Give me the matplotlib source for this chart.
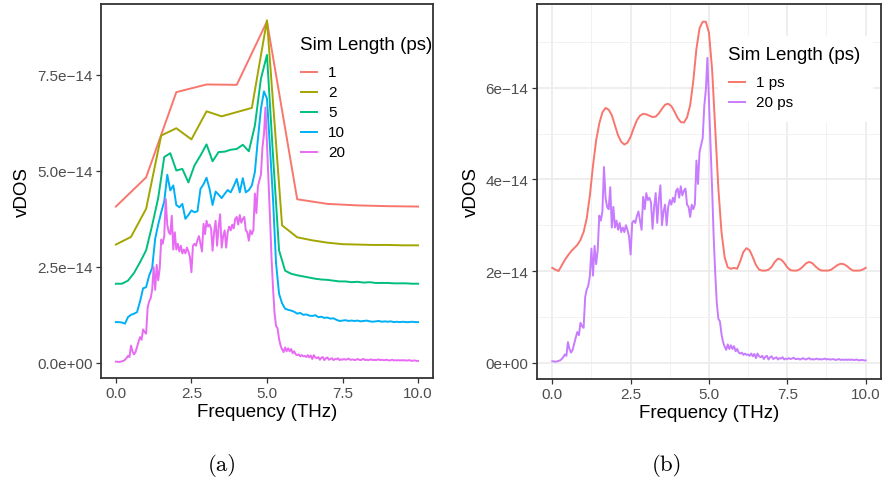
import numpy as np
import matplotlib
matplotlib.use("Agg")
import matplotlib.pyplot as plt
from matplotlib.lines import Line2D
from matplotlib.patches import Rectangle

plt.rcParams['font.family'] = ['Liberation Sans', 'DejaVu Sans']

# vDOS values, units of 1e-14, without the vertical offset
vdos_1ps = [0.07, 0.83, 3.05, 3.25, 3.24, 4.89, 0.26, 0.14, 0.10, 0.08, 0.07]

vdos_2ps = [0.08, 0.28, 1.01, 2.92, 3.11, 2.82, 3.55, 3.42, 3.53, 3.64, 5.92,
            0.58, 0.27, 0.19, 0.13, 0.09, 0.08, 0.07, 0.07, 0.06, 0.06]

vdos_5ps = [0.06, 0.06, 0.14, 0.34, 0.62, 0.93, 1.58, 2.29, 3.36, 3.46,
            3.01, 3.05, 2.70, 3.14, 3.40, 3.69, 3.25, 3.49, 3.50, 3.55,
            3.57, 3.68, 3.51, 4.18, 5.40, 6.02, 3.40, 0.93, 0.40, 0.32,
            0.28, 0.25, 0.22, 0.19, 0.17, 0.16, 0.14, 0.12, 0.12, 0.10,
            0.11, 0.09, 0.10, 0.08, 0.08, 0.08, 0.07, 0.07, 0.07, 0.06,
            0.06]

vdos_10ps = [0.06, 0.06, 0.05, 0.02, 0.19, 0.25, 0.28, 0.32, 0.60, 0.94,
             0.97, 1.27, 1.47, 2.23, 2.60, 2.92, 3.20, 3.90, 3.49, 3.62,
             3.11, 3.05, 3.14, 2.75, 2.85, 2.97, 2.92, 2.95, 3.53, 3.65,
             3.82, 3.53, 3.11, 3.46, 3.38, 3.29, 3.40, 3.50, 3.44, 3.60,
             3.79, 3.44, 3.81, 3.44, 3.50, 3.62, 3.97, 4.83, 5.61, 6.07,
             5.88, 4.60, 3.27, 1.60, 0.80, 0.55, 0.41, 0.38, 0.36, 0.33,
             0.28, 0.30, 0.25, 0.26, 0.23, 0.22, 0.24, 0.19, 0.20, 0.17,
             0.18, 0.15, 0.16, 0.12, 0.09, 0.10, 0.11, 0.09, 0.10, 0.09,
             0.10, 0.08, 0.09, 0.10, 0.08, 0.07, 0.08, 0.09, 0.07, 0.08,
             0.07, 0.08, 0.06, 0.07, 0.06, 0.07, 0.06, 0.06, 0.07, 0.06,
             0.06]

# one row per THz
vdos_20ps = [0.03, 0.03, 0.02, 0.03, 0.04, 0.05, 0.08, 0.12, 0.18, 0.15,
             0.45, 0.30, 0.22, 0.28, 0.42, 0.55, 0.67, 0.60, 0.87, 0.80,
             0.76, 1.43, 1.60, 1.68, 1.90, 2.49, 1.90, 2.55, 2.15, 2.45,
             3.21, 3.10, 3.30, 4.27, 3.60, 3.40, 3.35, 3.83, 2.95, 3.40,
             2.95, 3.10, 2.90, 3.05, 2.85, 2.95, 2.85, 3.00, 2.90, 2.75,
             2.36, 3.05, 3.10, 3.05, 3.20, 3.30, 3.10, 2.90, 3.62, 3.35,
             3.70, 3.55, 3.60, 3.50, 2.92, 3.40, 3.70, 3.05, 3.55, 3.87,
             3.00, 3.30, 3.45, 3.00, 3.40, 3.55, 3.45, 3.60, 3.50, 3.75,
             3.80, 3.60, 3.85, 3.65, 3.75, 3.80, 3.45, 3.40, 3.18, 3.45,
             3.35, 3.45, 4.41, 3.90, 4.60, 4.75, 4.90, 5.60, 5.95, 6.65,
             5.70, 4.80, 3.80, 2.75, 1.95, 1.30, 0.96, 0.90, 0.62, 0.45,
             0.35, 0.28, 0.40, 0.30, 0.38, 0.30, 0.36, 0.25, 0.30, 0.22,
             0.20, 0.22, 0.17, 0.20, 0.17, 0.18, 0.15, 0.20, 0.14, 0.19,
             0.10, 0.20, 0.14, 0.12, 0.15, 0.08, 0.13, 0.15, 0.07, 0.12,
             0.14, 0.08, 0.10, 0.12, 0.07, 0.10, 0.09, 0.12, 0.07, 0.09,
             0.08, 0.10, 0.08, 0.09, 0.11, 0.08, 0.08, 0.09, 0.07, 0.08,
             0.10, 0.08, 0.07, 0.09, 0.10, 0.07, 0.08, 0.07, 0.08, 0.09,
             0.07, 0.08, 0.07, 0.08, 0.09, 0.07, 0.08, 0.07, 0.07, 0.08,
             0.07, 0.06, 0.07, 0.08, 0.06, 0.07, 0.06, 0.07, 0.06, 0.07,
             0.06, 0.07, 0.06, 0.06, 0.07, 0.06, 0.05, 0.06, 0.06, 0.05,
             0.05]

# 1 ps spectrum with finer sampling (panel b), 0.1 THz steps
vdos_1ps_fine = [0.07, 0.03, 0.00, 0.12, 0.24, 0.34, 0.43, 0.50, 0.57, 0.68,
                 0.85, 1.15, 1.65, 2.30, 2.85, 3.22, 3.46, 3.56, 3.52, 3.40,
                 3.18, 2.96, 2.82, 2.76, 2.80, 2.93, 3.12, 3.29, 3.39, 3.43,
                 3.42, 3.39, 3.36, 3.37, 3.44, 3.54, 3.63, 3.65, 3.60, 3.48,
                 3.34, 3.25, 3.24, 3.35, 3.62, 4.15, 4.85, 5.30, 5.44, 5.44,
                 5.20, 4.40, 3.10, 1.80, 0.85, 0.30, 0.08, 0.05, 0.07, 0.05,
                 0.22, 0.42, 0.50, 0.45, 0.30, 0.13, 0.03, 0.01, 0.01, 0.03,
                 0.09, 0.20, 0.27, 0.25, 0.18, 0.08, 0.02, 0.01, 0.01, 0.04,
                 0.10, 0.17, 0.20, 0.17, 0.10, 0.04, 0.01, 0.01, 0.01, 0.03,
                 0.08, 0.13, 0.16, 0.15, 0.11, 0.05, 0.01, 0.01, 0.01, 0.03,
                 0.07]

labels_a = ['1', '2', '5', '10', '20']
series_a = [vdos_1ps, vdos_2ps, vdos_5ps, vdos_10ps, vdos_20ps]
offsets_a = [4, 3, 2, 1, 0]
colors_a = ['#F8766D', '#A3A500', '#00BF7D', '#00B0F6', '#E76BF3']

labels_b = ['1 ps', '20 ps']
series_b = [vdos_1ps_fine, vdos_20ps]
offsets_b = [2, 0]
colors_b = ['#F8766D', '#C77CFF']

xticks = [0.0, 2.5, 5.0, 7.5, 10.0]
xticklabels = ['0.0', '2.5', '5.0', '7.5', '10.0']
yticks_a = [0.0, 2.5e-14, 5.0e-14, 7.5e-14]
yticklabels_a = ['0.0e+00', '2.5e\u221214', '5.0e\u221214', '7.5e\u221214']
yticks_b = [0.0, 2e-14, 4e-14, 6e-14]
yticklabels_b = ['0e+00', '2e\u221214', '4e\u221214', '6e\u221214']

W, H = 884, 485
fig = plt.figure(figsize=(W / 100, H / 100), dpi=100)
ax_a = fig.add_axes([0.114, 0.219, 0.376, 0.771])
ax_b = fig.add_axes([0.607, 0.217, 0.390, 0.773])


def px(x, y):
    # pixel position (from top left) -> figure fraction
    return x / W, 1 - y / H


def style_axes(ax, yticks, yticklabels):
    ax.set_xticks(xticks)
    ax.set_xticklabels(xticklabels)
    ax.set_yticks(yticks)
    ax.set_yticklabels(yticklabels)
    ax.tick_params(length=3.5, width=0.9, color='#333333', labelcolor='#4D4D4D',
                   labelsize=11, pad=2.5)
    for sp in ax.spines.values():
        sp.set_color('#333333')
        sp.set_linewidth(1.3)
    ax.set_xlim(-0.5, 10.5)
    ax.set_xlabel('Frequency (THz)', fontsize=13.5, labelpad=2)
    ax.set_ylabel('vDOS', fontsize=13.5, labelpad=4)


def draw_legend(title, labels, colors, x0, y_title, y_first, step=20):
    fig.text(*px(x0, y_title), title, fontsize=13.5, ha='left', va='center', zorder=6)
    for i, (lab, col) in enumerate(zip(labels, colors)):
        y = y_first + i * step
        (xa, ya), (xb, _) = px(x0 + 1, y), px(x0 + 17, y)
        fig.add_artist(Line2D([xa, xb], [ya, ya], color=col, lw=1.4, zorder=6))
        fig.text(*px(x0 + 28, y), lab, fontsize=11, ha='left', va='center', zorder=6)


# (a) all simulation lengths, stacked
for vals, off, col, lab in zip(series_a, offsets_a, colors_a, labels_a):
    freq = np.linspace(0, 10, len(vals))
    ax_a.plot(freq, (np.array(vals) + off) * 1e-14, color=col, lw=1.4, label=lab)
style_axes(ax_a, yticks_a, yticklabels_a)
ax_a.set_ylim(-0.39e-14, 9.35e-14)
draw_legend('Sim Length (ps)', labels_a, colors_a, 300, 45, 73)

# (b) 1 ps vs 20 ps
ax_b.set_axisbelow(True)
ax_b.set_xticks([1.25, 3.75, 6.25, 8.75], minor=True)
ax_b.set_yticks([1e-14, 3e-14, 5e-14, 7e-14], minor=True)
ax_b.grid(which='major', color='#EBEBEB', lw=1.2)
ax_b.grid(which='minor', color='#F2F2F2', lw=0.7)
ax_b.tick_params(which='minor', length=0)
for vals, off, col, lab in zip(series_b, offsets_b, colors_b, labels_b):
    freq = np.linspace(0, 10, len(vals))
    ax_b.plot(freq, (np.array(vals) + off) * 1e-14, color=col, lw=1.4, label=lab)
style_axes(ax_b, yticks_b, yticklabels_b)
ax_b.set_ylim(-0.35e-14, 7.83e-14)

# white legend background over the grid
bx, by = px(718, 123)
fig.add_artist(Rectangle((bx, by), 155 / W, 86 / H, transform=fig.transFigure,
                         facecolor='white', edgecolor='none', zorder=5))
draw_legend('Sim Length (ps)', labels_b, colors_b, 728, 56, 83)

fig.text(0.251, 0.041, '(a)', fontsize=16.5, family='cmr10', ha='center', va='center')
fig.text(0.755, 0.041, '(b)', fontsize=16.5, family='cmr10', ha='center', va='center')

fig.savefig('out.png', dpi=100)
